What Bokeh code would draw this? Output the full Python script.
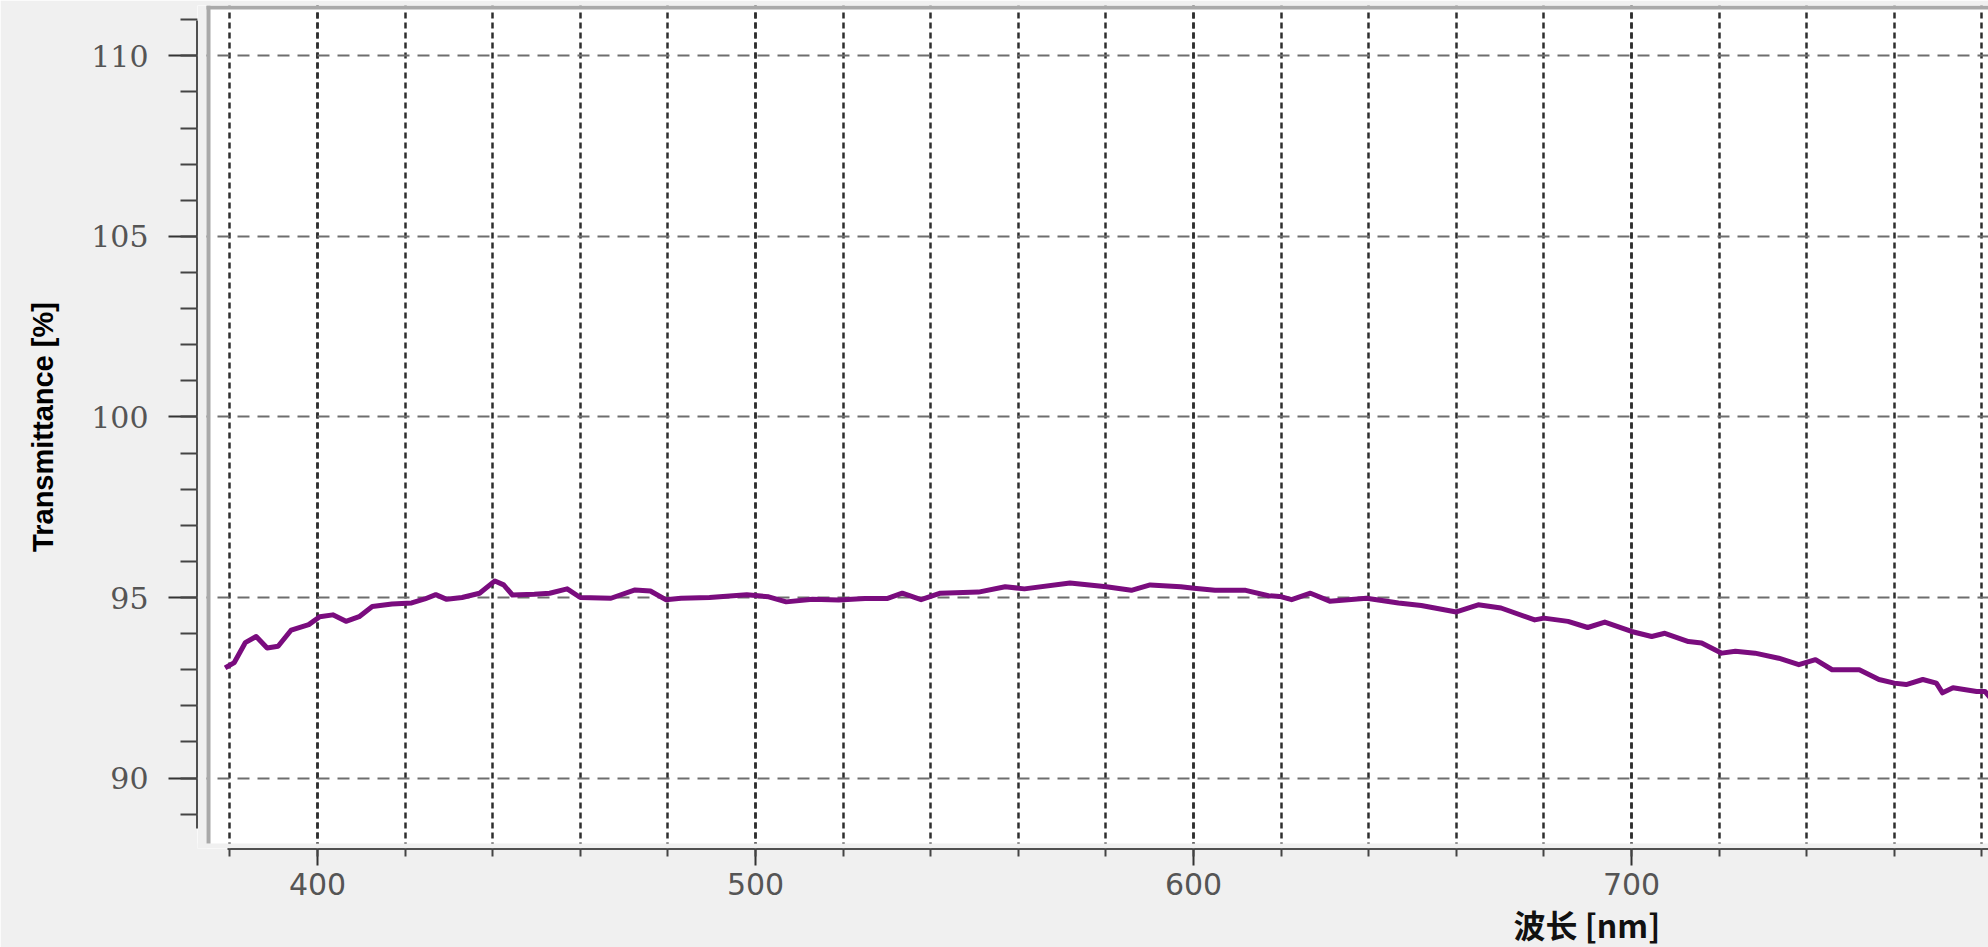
from bokeh.plotting import figure
from bokeh.models import Range1d, FixedTicker, BoxAnnotation, Title
from bokeh.embed import file_html
from bokeh.resources import INLINE

# ---- data ----
wavelength = [378.9, 381.0, 383.5, 386.0, 388.5, 391.0, 394.0, 398.0, 400.5, 403.5,
              406.5, 409.5, 412.5, 417.0, 421.5, 424.5, 427.0, 429.5, 433.0, 437.0,
              440.5, 442.5, 444.5, 449.5, 453.0, 457.0, 460.0, 467.0, 472.5, 476.0,
              479.5, 483.0, 489.5, 498.0, 503.0, 507.0, 513.0, 519.0, 525.0, 530.0,
              533.5, 537.8, 542.2, 550.9, 557.0, 561.4, 571.8, 580.1, 585.8, 590.1,
              597.1, 600.1, 604.9, 611.9, 617.1, 619.7, 622.4, 626.7, 631.1, 639.5,
              646.8, 652.0, 660.0, 665.0, 670.2, 677.9, 680.0, 685.5, 690.0, 693.9,
              700.0, 704.6, 707.6, 713.0, 716.0, 720.6, 723.7, 728.2, 733.6, 738.2,
              742.0, 745.8, 752.0, 756.5, 760.0, 762.7, 766.5, 769.6, 771.0, 773.4,
              778.8, 780.7, 781.9]
transmittance = [93.05, 93.20, 93.75, 93.92, 93.60, 93.65, 94.10, 94.25, 94.47, 94.52,
                 94.34, 94.47, 94.75, 94.82, 94.85, 94.96, 95.08, 94.95, 95.00, 95.12,
                 95.46, 95.35, 95.07, 95.09, 95.12, 95.24, 95.00, 94.98, 95.21, 95.18,
                 94.94, 94.98, 95.00, 95.08, 95.02, 94.88, 94.95, 94.93, 94.97, 94.97,
                 95.12, 94.94, 95.12, 95.15, 95.30, 95.24, 95.40, 95.30, 95.20, 95.35,
                 95.30, 95.26, 95.20, 95.20, 95.05, 95.03, 94.94, 95.12, 94.90, 94.98,
                 94.85, 94.78, 94.60, 94.80, 94.71, 94.38, 94.43, 94.34, 94.17, 94.32,
                 94.06, 93.92, 94.01, 93.78, 93.74, 93.46, 93.51, 93.46, 93.32, 93.14,
                 93.28, 93.00, 93.00, 92.73, 92.63, 92.59, 92.73, 92.63, 92.36, 92.50,
                 92.40, 92.40, 92.22]

x_major_ticks = [400, 500, 600, 700]
x_minor_ticks = list(range(380, 800, 20))
y_major_ticks = [90, 95, 100, 105, 110]
y_minor_ticks = list(range(89, 112))

x_title = "波长 [nm]"
y_title = "Transmittance [%]"

BG = "#f0f0f0"
BORDER = "#a9a9a9"

p = figure(width=1988, height=947, output_backend="svg", toolbar_location=None,
           x_range=Range1d(372.6, 781.5), y_range=Range1d(88.05, 111.395),
           min_border_left=197, min_border_right=0, min_border_top=5,
           min_border_bottom=97)
p.background_fill_color = "white"
p.border_fill_color = BG
p.outline_line_color = None

xt = FixedTicker(ticks=x_major_ticks, minor_ticks=x_minor_ticks)
yt = FixedTicker(ticks=y_major_ticks, minor_ticks=y_minor_ticks)
p.xaxis.ticker = xt
p.yaxis.ticker = yt
p.xgrid.ticker = xt
p.ygrid.ticker = yt

# grids
p.xgrid.grid_line_color = "#2e2e2e"
p.xgrid.grid_line_width = 2.5
p.xgrid.grid_line_dash = "6 4"
p.xgrid.minor_grid_line_color = "#2e2e2e"
p.xgrid.minor_grid_line_width = 2.5
p.xgrid.minor_grid_line_dash = "6 4"
p.ygrid.grid_line_color = "#6e6e6e"
p.ygrid.grid_line_width = 2
p.ygrid.grid_line_dash = "12 8"

# x axis
xa = p.xaxis[0]
xa.bounds = (379.45, 800)
xa.axis_line_color = "#1a1a1a"
xa.axis_line_width = 2.5
xa.major_tick_out = 17
xa.major_tick_in = 0
xa.minor_tick_out = 8
xa.minor_tick_in = 0
xa.major_tick_line_color = "#333333"
xa.major_tick_line_width = 2
xa.minor_tick_line_color = "#444444"
xa.minor_tick_line_width = 2
xa.major_label_text_font = "DejaVu Sans"
xa.major_label_text_font_size = "30px"
xa.major_label_text_color = "#555555"
xa.major_label_standoff = 7

# y axis
ya = p.yaxis[0]
ya.bounds = (88.6, 110.98)
ya.axis_line_color = "#1a1a1a"
ya.axis_line_width = 2.5
ya.major_tick_out = 29
ya.major_tick_in = 0
ya.minor_tick_out = 17
ya.minor_tick_in = 0
ya.major_tick_line_color = "#333333"
ya.major_tick_line_width = 2
ya.minor_tick_line_color = "#444444"
ya.minor_tick_line_width = 2
ya.major_label_text_font = "DejaVu Serif"
ya.major_label_text_font_size = "30px"
ya.major_label_text_color = "#555555"
ya.major_label_standoff = 20
ya.axis_label = y_title
ya.axis_label_text_font = "Liberation Sans"
ya.axis_label_text_font_size = "29px"
ya.axis_label_text_font_style = "bold"
ya.axis_label_text_color = "#000000"
ya.axis_label_standoff = 29

# curve
p.line(wavelength, transmittance, line_color="#7a0c7e", line_width=5,
       line_join="round")

# plot-area frame details (gray gap between axes and white area, gray border)
p.add_layout(BoxAnnotation(right=374.66, fill_color=BG, fill_alpha=1,
                           line_color=None))
p.add_layout(BoxAnnotation(top=88.19, fill_color=BG, fill_alpha=1,
                           line_color=None))
p.add_layout(BoxAnnotation(left=374.66, right=375.57, bottom=88.19,
                           fill_color=BORDER, fill_alpha=1, line_color=None))
p.add_layout(BoxAnnotation(left=374.66, bottom=111.285,
                           fill_color=BORDER, fill_alpha=1, line_color=None))

# x axis title, placed right of centre as in the reference
p.add_layout(Title(text=x_title, align="left", offset=1316, standoff=2,
                   text_font="Noto Sans CJK SC", text_font_size="32px",
                   text_font_style="bold", text_color="#111111"), "below")

open("out.html", "w").write(file_html(p, INLINE))
